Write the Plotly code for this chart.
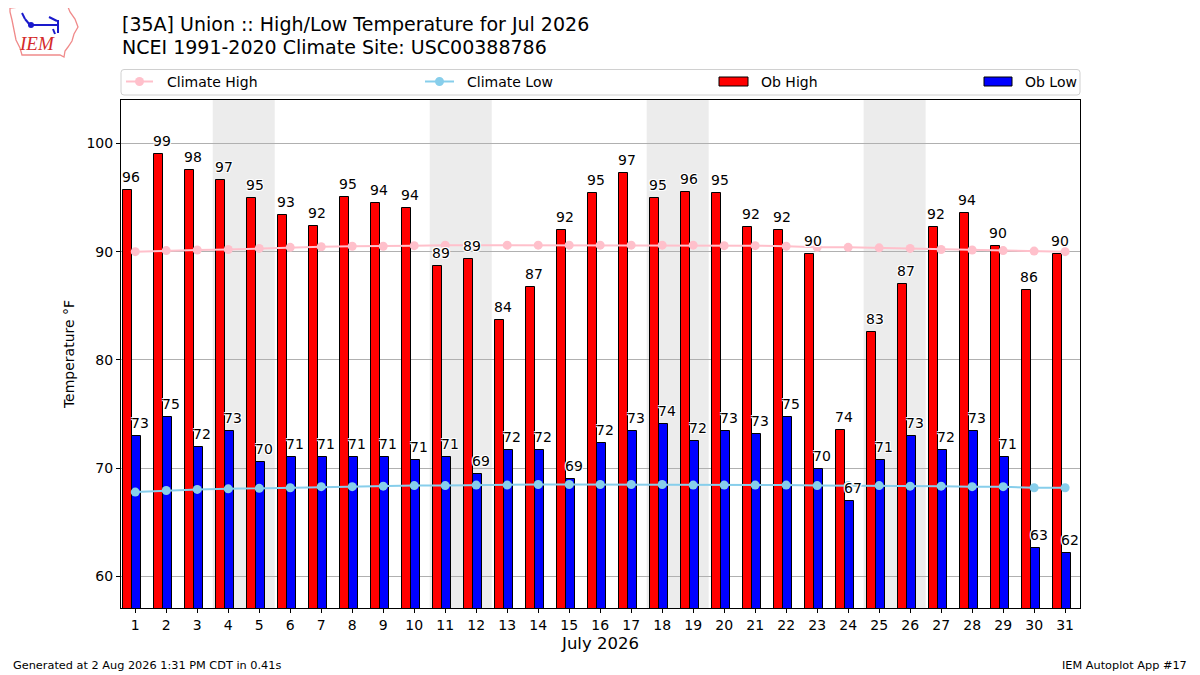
import plotly.graph_objects as go

# ---------------- data ----------------
days = list(range(1, 32))
ob_high = [95.7, 99.0, 97.5, 96.6, 94.95, 93.4, 92.4, 95.0, 94.5, 94.0,
           88.7, 89.3, 83.7, 86.7, 92.0, 95.4, 97.25, 94.95, 95.5, 95.4,
           92.3, 92.0, 89.8, 73.55, 82.6, 87.0, 92.3, 93.6, 90.5, 86.5, 89.8]
ob_low = [73.0, 74.7, 72.0, 73.4, 70.55, 71.0, 71.0, 71.0, 71.0, 70.75,
          71.0, 69.45, 71.65, 71.65, 69.0, 72.3, 73.4, 74.05, 72.5, 73.4,
          73.2, 74.7, 69.95, 67.0, 70.75, 73.0, 71.65, 73.4, 71.0, 62.6, 62.2]
high_labels = [96, 99, 98, 97, 95, 93, 92, 95, 94, 94, 89, 89, 84, 87, 92, 95,
               97, 95, 96, 95, 92, 92, 90, 74, 83, 87, 92, 94, 90, 86, 90]
low_labels = [73, 75, 72, 73, 70, 71, 71, 71, 71, 71, 71, 69, 72, 72, 69, 72,
              73, 74, 72, 73, 73, 75, 70, 67, 71, 73, 72, 73, 71, 63, 62]
clim_high = [90.0, 90.1, 90.15, 90.2, 90.3, 90.4, 90.45, 90.5, 90.5, 90.55,
             90.6, 90.6, 90.6, 90.6, 90.6, 90.6, 90.6, 90.6, 90.6, 90.55,
             90.55, 90.5, 90.4, 90.4, 90.35, 90.3, 90.2, 90.15, 90.1, 90.05, 90.0]
clim_low = [67.8, 67.95, 68.05, 68.1, 68.15, 68.2, 68.3, 68.3, 68.35, 68.4,
            68.4, 68.45, 68.45, 68.5, 68.5, 68.5, 68.5, 68.5, 68.45, 68.45,
            68.45, 68.45, 68.4, 68.4, 68.4, 68.35, 68.35, 68.3, 68.3, 68.2, 68.2]
weekends = [(4, 5), (11, 12), (18, 19), (25, 26)]
yticks = [60, 70, 80, 90, 100]

title1 = "[35A] Union :: High/Low Temperature for Jul 2026"
title2 = "NCEI 1991-2020 Climate Site: USC00388786"
xlabel = "July 2026"
ylabel = "Temperature °F"
footer_left = "Generated at 2 Aug 2026 1:31 PM CDT in 0.41s"
footer_right = "IEM Autoplot App #17"

# ---------------- layout helpers ----------------
OFF = 8  # page body margin of the browser
W, H = 1200 - OFF, 675 - OFF
L, R, T, B = 121, 1080, 100, 608   # plot area in screenshot pixels
FONT = "DejaVu Sans"


def px(x):
    return (x - L) / (R - L)


def py(y):
    return (B - y) / (B - T)


fig = go.Figure()

fig.add_trace(go.Bar(x=days, y=ob_high, offset=-0.4, width=0.3,
                     marker=dict(color="#ff0000", line=dict(color="black", width=1)),
                     name="Ob High", showlegend=False))
fig.add_trace(go.Bar(x=days, y=ob_low, offset=-0.1, width=0.3,
                     marker=dict(color="#0000ff", line=dict(color="black", width=1)),
                     name="Ob Low", showlegend=False))
fig.add_trace(go.Scatter(x=days, y=clim_high, mode="lines+markers",
                         line=dict(color="#ffc0cb", width=2),
                         marker=dict(color="#ffc0cb", size=9),
                         name="Climate High", showlegend=False))
fig.add_trace(go.Scatter(x=days, y=clim_low, mode="lines+markers",
                         line=dict(color="#87ceeb", width=2),
                         marker=dict(color="#87ceeb", size=9),
                         name="Climate Low", showlegend=False))

shapes = []
for a, b in weekends:
    shapes.append(dict(type="rect", xref="x", yref="paper", x0=a - 0.5, x1=b + 0.5,
                       y0=0, y1=1, fillcolor="#ececec", line=dict(width=0), layer="below"))

halo = "-1px -1px 0 #fff, 1px -1px 0 #fff, -1px 1px 0 #fff, 1px 1px 0 #fff"
annotations = []
for d, v, t in zip(days, ob_high, high_labels):
    annotations.append(dict(x=d - 0.15, y=v, xref="x", yref="y", text=str(t),
                            showarrow=False, yanchor="bottom", yshift=3,
                            font=dict(family=FONT, size=14, color="black", shadow=halo)))
for d, v, t in zip(days, ob_low, low_labels):
    annotations.append(dict(x=d + 0.15, y=v, xref="x", yref="y", text=str(t),
                            showarrow=False, yanchor="bottom", yshift=3,
                            font=dict(family=FONT, size=14, color="black", shadow=halo)))

# titles
annotations.append(dict(x=px(120), y=py(24), xref="paper", yref="paper", text=title1,
                        showarrow=False, xanchor="left", yanchor="middle",
                        font=dict(family=FONT, size=19, color="black")))
annotations.append(dict(x=px(120), y=py(47), xref="paper", yref="paper", text=title2,
                        showarrow=False, xanchor="left", yanchor="middle",
                        font=dict(family=FONT, size=19, color="black")))
# footer
annotations.append(dict(x=px(11), y=py(665), xref="paper", yref="paper", text=footer_left,
                        showarrow=False, xanchor="left", yanchor="middle",
                        font=dict(family=FONT, size=11.3, color="black")))
annotations.append(dict(x=px(1189), y=py(665), xref="paper", yref="paper", text=footer_right,
                        showarrow=False, xanchor="right", yanchor="middle",
                        font=dict(family=FONT, size=11.3, color="black")))

# ---------------- manual legend ----------------
ly0, ly1, lyc = 69.5, 95, 81.5
r = 3
x0p, x1p = 121, 1080
path = (f"M {px(x0p + r)},{py(ly0)} L {px(x1p - r)},{py(ly0)} "
        f"Q {px(x1p)},{py(ly0)} {px(x1p)},{py(ly0 + r)} L {px(x1p)},{py(ly1 - r)} "
        f"Q {px(x1p)},{py(ly1)} {px(x1p - r)},{py(ly1)} L {px(x0p + r)},{py(ly1)} "
        f"Q {px(x0p)},{py(ly1)} {px(x0p)},{py(ly1 - r)} L {px(x0p)},{py(ly0 + r)} "
        f"Q {px(x0p)},{py(ly0)} {px(x0p + r)},{py(ly0)} Z")
shapes.append(dict(type="path", xref="paper", yref="paper", path=path,
                   line=dict(color="#d0d0d0", width=1), fillcolor="rgba(255,255,255,0.8)"))

legend_items = [
    ("Climate High", "line", "#ffc0cb", 126, 153, 165),
    ("Climate Low", "line", "#87ceeb", 425, 454, 465),
    ("Ob High", "rect", "#ff0000", 719, 748, 759),
    ("Ob Low", "rect", "#0000ff", 984, 1012, 1023),
]
for name, kind, col, a, b, tx in legend_items:
    if kind == "line":
        shapes.append(dict(type="line", xref="paper", yref="paper",
                           x0=px(a), x1=px(b), y0=py(lyc), y1=py(lyc),
                           line=dict(color=col, width=2)))
        m = (a + b) / 2
        shapes.append(dict(type="circle", xref="paper", yref="paper",
                           x0=px(m - 4.5), x1=px(m + 4.5), y0=py(lyc + 4.5), y1=py(lyc - 4.5),
                           fillcolor=col, line=dict(color=col, width=0)))
    else:
        shapes.append(dict(type="rect", xref="paper", yref="paper",
                           x0=px(a), x1=px(b), y0=py(lyc + 4.5), y1=py(lyc - 4.5),
                           fillcolor=col, line=dict(color="black", width=1)))
    annotations.append(dict(x=px(tx), y=py(lyc), xref="paper", yref="paper", text=name,
                            showarrow=False, xanchor="left", yanchor="middle",
                            font=dict(family=FONT, size=14, color="black")))

# ---------------- logo ----------------
outline = [(10, 8), (20, 7), (68, 7), (70, 12), (75, 19), (78, 27), (74, 34), (72, 41),
           (68, 47), (65, 51), (64, 57), (60, 55), (22, 55), (20, 48), (16, 40),
           (14, 30), (12, 20), (10, 12)]
p = "M " + " L ".join(f"{px(a)},{py(b)}" for a, b in outline) + " Z"
shapes.append(dict(type="path", xref="paper", yref="paper", path=p,
                   line=dict(color="#f08a8a", width=1.3)))
blue = "#1a1acc"
for (a, b, c, d) in [(31, 25, 58, 25), (49, 17, 57, 21), (58, 20, 58, 33),
                     (53, 29, 55, 34), (22, 13, 25, 19), (25, 19, 30, 25)]:
    shapes.append(dict(type="line", xref="paper", yref="paper",
                       x0=px(a), x1=px(c), y0=py(b), y1=py(d),
                       line=dict(color=blue, width=2)))
shapes.append(dict(type="circle", xref="paper", yref="paper",
                   x0=px(28), x1=px(34), y0=py(28), y1=py(22),
                   fillcolor=blue, line=dict(color=blue, width=0)))
annotations.append(dict(x=px(37), y=py(44), xref="paper", yref="paper", text="<i>IEM</i>",
                        showarrow=False, xanchor="center", yanchor="middle",
                        font=dict(family="Liberation Serif", size=19, color="#d42a2a")))

fig.update_layout(
    width=W, height=H,
    margin=dict(l=L - OFF, r=W - (R - OFF), t=T - OFF, b=H - (B - OFF), pad=0),
    paper_bgcolor="white", plot_bgcolor="white",
    barmode="overlay", bargap=0,
    font=dict(family=FONT, size=14, color="black"),
    shapes=shapes, annotations=annotations,
    showlegend=False,
)
fig.update_xaxes(range=[0.54, 31.48], tickmode="array", tickvals=days,
                 ticktext=[str(d) for d in days], ticks="outside", ticklen=4,
                 tickcolor="black", showline=True, linecolor="black", linewidth=1,
                 mirror=True, showgrid=False, zeroline=False,
                 tickfont=dict(family=FONT, size=14),
                 title=dict(text=xlabel, font=dict(family=FONT, size=16.5), standoff=5))
fig.update_yaxes(range=[57.1, 104.0], tickmode="array", tickvals=yticks,
                 ticks="outside", ticklen=4, tickcolor="black", showline=True,
                 linecolor="black", linewidth=1, mirror=True, showgrid=True,
                 gridcolor="#b0b0b0", gridwidth=1, zeroline=False,
                 tickfont=dict(family=FONT, size=14),
                 title=dict(text=ylabel, font=dict(family=FONT, size=14), standoff=8))

fig.write_html("out.html")
